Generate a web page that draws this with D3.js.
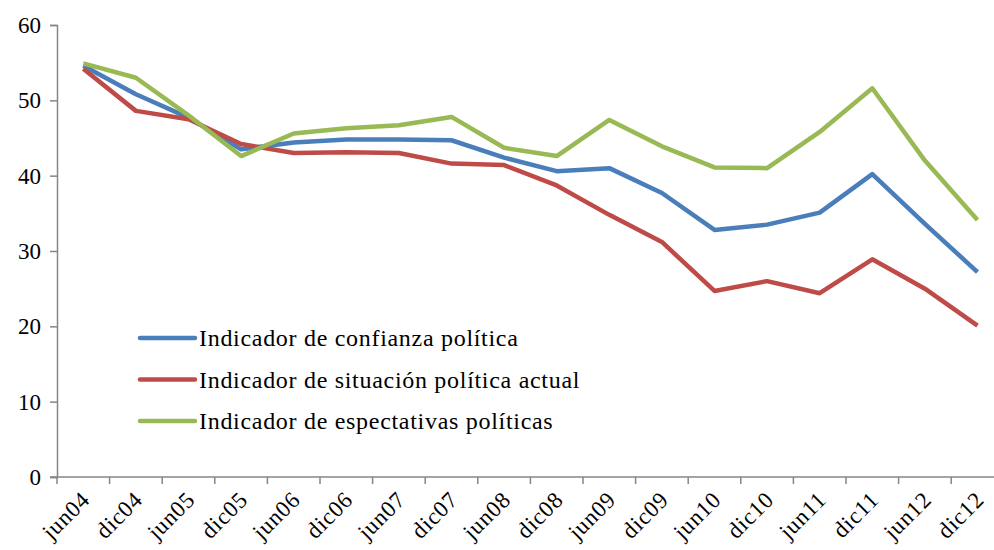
<!DOCTYPE html>
<html>
<head>
<meta charset="utf-8">
<script src="https://cdn.jsdelivr.net/npm/d3@7"></script>
<style>
  body { margin: 0; background: #fff; }
  text { font-family: "Liberation Serif", "DejaVu Serif", serif; fill: #000; }
</style>
</head>
<body>
<div id="chart"></div>
<script>
const width = 994;
const height = 550;

const periods = ["jun04", "dic04", "jun05", "dic05", "jun06", "dic06", "jun07", "dic07", "jun08",
  "dic08", "jun09", "dic09", "jun10", "dic10", "jun11", "dic11", "jun12", "dic12"];

const confianza = [54.6, 50.8, 47.7, 43.5, 44.4, 44.8, 44.8, 44.7, 42.4,
  40.6, 41.0, 37.7, 32.8, 33.5, 35.1, 40.2, 33.6, 27.2];
const situacion = [54.2, 48.6, 47.5, 44.2, 43.0, 43.1, 43.0, 41.6, 41.4,
  38.7, 34.8, 31.2, 24.7, 26.0, 24.4, 28.9, 25.0, 20.1];
const expectativas = [54.9, 53.0, 48.0, 42.6, 45.6, 46.3, 46.7, 47.8, 43.7,
  42.6, 47.4, 43.9, 41.1, 41.0, 45.8, 51.6, 42.0, 34.1];

const yTicks = [0, 10, 20, 30, 40, 50, 60];

const series = [
  { name: "Indicador de confianza política", values: confianza, color: "#4A7EBB" },
  { name: "Indicador de situación política actual", values: situacion, color: "#BE4B48" },
  { name: "Indicador de espectativas políticas", values: expectativas, color: "#98B954" }
];

const svg = d3.select("#chart").append("svg")
  .attr("width", width)
  .attr("height", height);

const x = d3.scaleBand()
  .domain(periods)
  .range([57, 57 + 52.6 * periods.length]);

const y = d3.scaleLinear()
  .domain([0, 60])
  .range([477, 25]);

// y axis
const yAxis = svg.append("g")
  .attr("transform", "translate(57,0)")
  .call(d3.axisLeft(y).tickValues(yTicks).tickSize(7).tickPadding(9));
yAxis.selectAll("text").style("font-size", "23px");

// x axis
const xAxis = svg.append("g")
  .attr("transform", "translate(0,477)")
  .call(d3.axisBottom(x).tickSize(0).tickFormat(""));
xAxis.select(".domain").attr("d", "M50,0H994");

svg.append("g")
  .selectAll("line")
  .data(periods)
  .join("line")
  .attr("x1", d => x(d))
  .attr("x2", d => x(d))
  .attr("y1", 477)
  .attr("y2", 484);

svg.selectAll(".domain, g line").attr("stroke", "#868686").attr("stroke-width", 1.5);

svg.append("g")
  .selectAll("text")
  .data(periods)
  .join("text")
  .attr("text-anchor", "end")
  .attr("transform", d => `translate(${x(d) + x.bandwidth() / 2 + 8},${501}) rotate(-45)`)
  .style("font-size", "23px")
  .style("letter-spacing", "0.8px")
  .text(d => d);

// lines
const line = d3.line()
  .x((d, i) => x(periods[i]) + x.bandwidth() / 2)
  .y(d => y(d));

svg.append("g")
  .selectAll("path")
  .data(series)
  .join("path")
  .attr("fill", "none")
  .attr("stroke", d => d.color)
  .attr("stroke-width", 4.5)
  .attr("stroke-linejoin", "round")
  .attr("d", d => line(d.values));

// legend
const legend = svg.append("g")
  .selectAll("g")
  .data(series)
  .join("g")
  .attr("transform", (d, i) => `translate(140,${338 + i * 41.5})`);

legend.append("line")
  .attr("x1", 0)
  .attr("x2", 55)
  .attr("stroke", d => d.color)
  .attr("stroke-width", 4.5)
  .attr("stroke-linecap", "round");

legend.append("text")
  .attr("x", 59)
  .attr("y", 8)
  .style("font-size", "24px")
  .style("letter-spacing", "0.7px")
  .text(d => d.name);
</script>
</body>
</html>
